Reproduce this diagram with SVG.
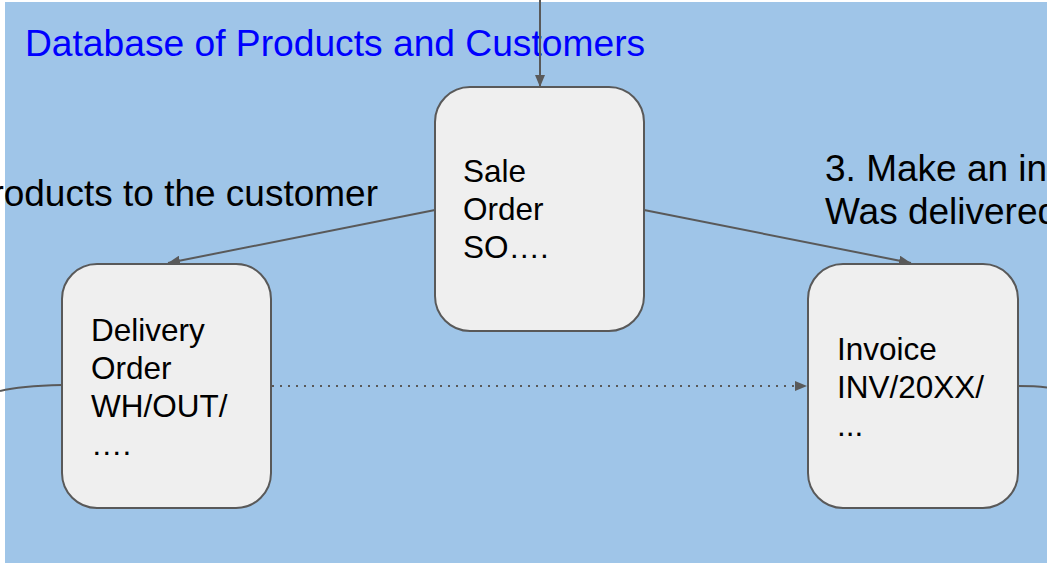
<svg xmlns="http://www.w3.org/2000/svg" width="1047" height="563" viewBox="0 0 1047 563">
<defs>
<style>
.node{fill:#efefef;stroke:#595959;stroke-width:2}
.lbl{font-family:"Liberation Sans",Arial,sans-serif;font-size:31.5px;fill:#000}
.big{font-family:"Liberation Sans",Arial,sans-serif;font-size:37px;fill:#000}
.edge{fill:none;stroke:#595959;stroke-width:2}
</style>
<marker id="arr" markerUnits="userSpaceOnUse" markerWidth="12" markerHeight="10" refX="12" refY="5" orient="auto">
<path d="M0,0 L12,5 L0,10 z" fill="#595959"/>
</marker>
</defs>
<rect x="0" y="0" width="1047" height="563" fill="#ffffff"/>
<rect x="5" y="2" width="1042" height="561" fill="#9fc5e8"/>
<text x="25" y="56" font-family="Liberation Sans, Arial, sans-serif" font-size="37.2" fill="#0000ff">Database of Products and Customers</text>
<text class="big" x="378" y="206" text-anchor="end">roducts to the customer</text>
<text class="big" x="825" y="181">3. Make an in</text>
<text class="big" x="825" y="224">Was delivered</text>
<g id="connectors">
<path class="edge" d="M540,0 L540,87" marker-end="url(#arr)"/>
<path class="edge" d="M435,210 L168,263" marker-end="url(#arr)"/>
<path class="edge" d="M644,210 L911,263" marker-end="url(#arr)"/>
<path class="edge" d="M272,386 L807,386" stroke-dasharray="2 6" marker-end="url(#arr)"/>
<path class="edge" d="M0,391 Q20,386 62,385"/>
<path class="edge" d="M1018,386 Q1035,386 1047,387.5"/>
</g>
<g id="sale-order">
<rect class="node" x="435" y="87" width="209" height="244" rx="35" ry="35"/>
<text class="lbl" x="463" y="182">Sale</text>
<text class="lbl" x="463" y="220">Order</text>
<text class="lbl" x="463" y="258">SO….</text>
</g>
<g id="delivery-order">
<rect class="node" x="62" y="264" width="209" height="244" rx="35" ry="35"/>
<text class="lbl" x="91" y="341">Delivery</text>
<text class="lbl" x="91" y="379">Order</text>
<text class="lbl" x="91" y="417">WH/OUT/</text>
<text class="lbl" x="91" y="455">….</text>
</g>
<g id="invoice">
<rect class="node" x="808" y="264" width="210" height="244" rx="35" ry="35"/>
<text class="lbl" x="837" y="360">Invoice</text>
<text class="lbl" x="837" y="398">INV/20XX/</text>
<text class="lbl" x="837" y="436">...</text>
</g>
</svg>
